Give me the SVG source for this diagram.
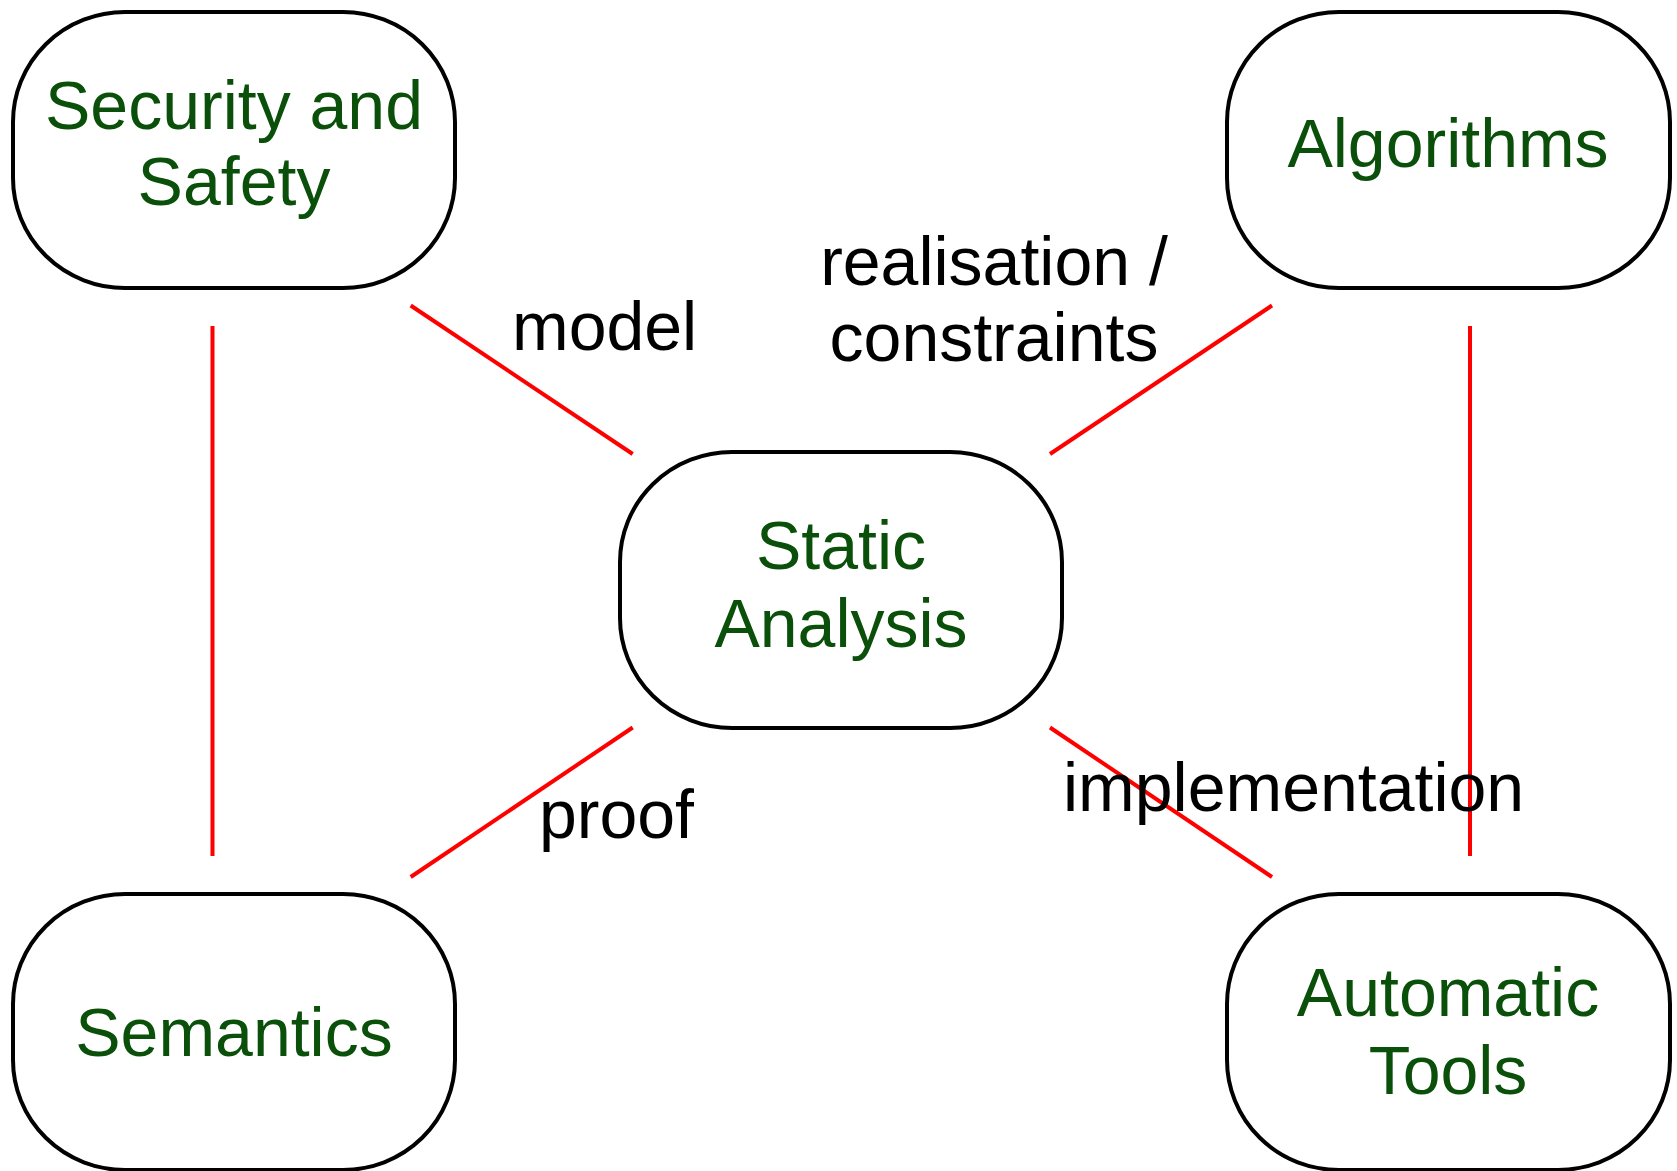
<svg xmlns="http://www.w3.org/2000/svg" width="1677" height="1171" viewBox="0 0 1677 1171">
<style>
.node rect{fill:#fff;stroke:#000;stroke-width:4}
.nt{font-family:"Liberation Sans",Arial,sans-serif;font-size:68px;fill:#0a500a;text-anchor:middle}
.lt{font-family:"Liberation Sans",Arial,sans-serif;font-size:68px;fill:#000}
#connectors line{stroke:#ff0000;stroke-width:4;stroke-linecap:butt}
</style>
<rect width="1677" height="1171" fill="#fff"/>
<g id="connectors">
<line x1="212.5" y1="326" x2="212.5" y2="856"/>
<line x1="1470" y1="326" x2="1470" y2="856"/>
<line x1="410.7" y1="305.5" x2="632.7" y2="454"/>
<line x1="1050" y1="454" x2="1272" y2="305.5"/>
<line x1="632.7" y1="727.5" x2="410.7" y2="877"/>
<line x1="1050" y1="727.5" x2="1272" y2="877"/>
</g>
<g id="labels">
<text class="lt" x="512" y="350">model</text>
<text class="lt" x="994" y="285" text-anchor="middle">realisation /</text>
<text class="lt" x="994" y="361" text-anchor="middle">constraints</text>
<text class="lt" x="539" y="838">proof</text>
<text class="lt" x="1063" y="811">implementation</text>
</g>
<g id="security" class="node">
<rect x="13" y="12" width="442" height="276" rx="112" ry="110"/>
<text class="nt" x="234" y="129">Security and</text>
<text class="nt" x="234" y="205">Safety</text>
</g>
<g id="algorithms" class="node">
<rect x="1227" y="12" width="443" height="276" rx="112" ry="110"/>
<text class="nt" x="1448" y="167">Algorithms</text>
</g>
<g id="static" class="node">
<rect x="620" y="452" width="442" height="276" rx="112" ry="110"/>
<text class="nt" x="841" y="569">Static</text>
<text class="nt" x="841" y="647">Analysis</text>
</g>
<g id="semantics" class="node">
<rect x="13" y="894" width="442" height="276" rx="112" ry="110"/>
<text class="nt" x="234" y="1056">Semantics</text>
</g>
<g id="tools" class="node">
<rect x="1227" y="894" width="443" height="276" rx="112" ry="110"/>
<text class="nt" x="1448" y="1016">Automatic</text>
<text class="nt" x="1448" y="1094">Tools</text>
</g>
</svg>
